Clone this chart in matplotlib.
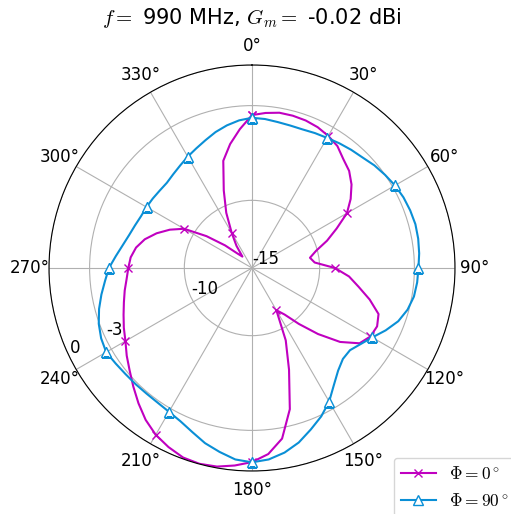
import matplotlib
matplotlib.use("Agg")
import matplotlib.pyplot as plt
import numpy as np

# angles in degrees, 5 deg step
angles = list(range(0, 365, 5))

# Phi = 0 cut (dB)
gain_phi0 = [
    -3.7, -3.5, -3.35, -3.35, -3.4, -3.52, -3.73, -4.0, -4.5, -4.85,
    -5.4, -6.1, -6.9, -8.1, -9.1, -10.1, -10.65, -10.35, -8.87, -7.8,
    -7.0, -6.0, -5.05, -4.8, -4.89, -5.3, -6.5, -8.1, -9.6, -10.8,
    -11.4, -9.1, -7.0, -4.2, -2.2, -1.2, -0.66, -0.35, -0.1, -0.02,
    -0.1, -0.4, -0.77, -1.3, -1.95, -2.6, -3.2, -3.7, -4.2, -4.55,
    -4.9, -5.2, -5.45, -5.7, -5.86, -6.0, -6.3, -6.8, -7.5, -8.3,
    -9.2, -10.9, -12.4, -13.5, -13.9, -13.0, -12.0, -10.5, -8.9, -6.8,
    -5.7, -4.7, -3.7,
]

# Phi = 90 cut (dB)
gain_phi90 = [
    -3.9, -3.95, -4.05, -4.1, -4.1, -4.0, -3.9, -3.75, -3.6, -3.45,
    -3.2, -3.0, -2.8, -2.65, -2.56, -2.5, -2.53, -2.6, -2.7, -2.75,
    -2.85, -3.1, -3.5, -4.1, -4.74, -5.2, -5.55, -5.5, -5.1, -4.45,
    -3.6, -2.9, -2.3, -1.65, -1.15, -0.8, -0.64, -0.8, -1.2, -1.6,
    -2.1, -2.5, -2.73, -2.85, -2.88, -2.85, -2.8, -2.7, -2.56, -2.7,
    -2.95, -3.3, -3.7, -4.1, -4.43, -4.9, -5.3, -5.6, -5.8, -5.95,
    -6.0, -6.05, -6.1, -6.1, -5.95, -5.75, -5.5, -5.25, -4.95, -4.6,
    -4.3, -4.05, -3.9,
]

r_ticks = [-15, -10, -3, 0]
theta_ticks = list(range(0, 360, 30))

plt.rcParams["mathtext.fontset"] = "cm"

fig = plt.figure(figsize=(5.11, 5.14), dpi=100)
ax = fig.add_axes([49 / 511, 43 / 514, 406 / 511, 406 / 514], projection="polar")
ax.set_theta_zero_location("N")
ax.set_theta_direction(-1)

th = np.deg2rad(angles)
ax.plot(th, gain_phi0, color="#c000c0", linewidth=1.5, marker="x",
        markersize=6, markevery=6, label=r"$\Phi = 0^\circ$")
ax.plot(th, gain_phi90, color="#0a8fd6", linewidth=1.5, marker="^",
        markersize=7, markerfacecolor="white", markevery=6,
        label=r"$\Phi = 90^\circ$")

ax.set_ylim(-15, 0)
ax.set_yticks(r_ticks)
ax.set_yticklabels([str(v) for v in r_ticks], fontsize=12)
ax.set_rlabel_position(244)
ax.set_xticks(np.deg2rad(theta_ticks))
ax.set_xticklabels([f"{t}°" for t in theta_ticks], fontsize=12)
ax.grid(color="#b0b0b0", linewidth=0.8)

fig.text(252 / 511, 1 - 18 / 514, r"$f=$ 990 MHz, $G_m=$ -0.02 dBi",
         ha="center", va="center", fontsize=15)
fig.legend(loc="lower right", bbox_to_anchor=(1.01, -0.005), fontsize=12.5,
           borderaxespad=0.0)

fig.savefig("out.png", dpi=100)
